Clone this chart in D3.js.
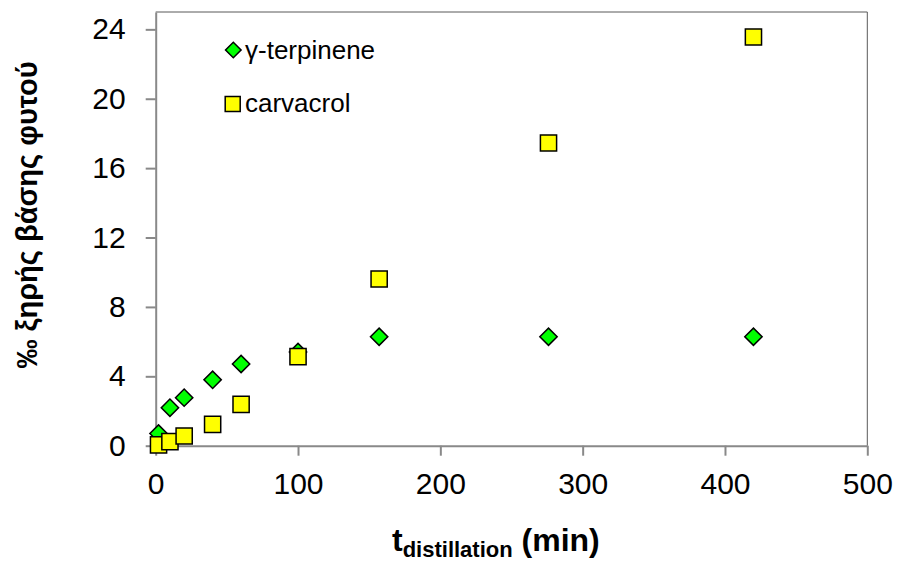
<!DOCTYPE html>
<html><head><meta charset="utf-8">
<script src="https://cdn.jsdelivr.net/npm/d3@7"></script>
<style>body{margin:0;background:#fff}svg{display:block;font-family:"Liberation Sans",Arial,sans-serif}</style>
</head><body><svg id="c" width="897" height="563"></svg>
<script>
const seriesNames = ["γ-terpinene", "carvacrol"];
const terpineneT = [2, 10, 20, 40, 60, 100, 157, 276, 420];
const terpineneV = [0.7, 2.19, 2.77, 3.8, 4.71, 5.4, 6.28, 6.28, 6.28];
const carvacrolT = [2, 10, 20, 40, 60, 100, 157, 276, 420];
const carvacrolV = [0.05, 0.23, 0.56, 1.23, 2.38, 5.13, 9.61, 17.45, 23.56];
const xTicks = [0, 100, 200, 300, 400, 500];
const yTicks = [0, 4, 8, 12, 16, 20, 24];
const xLabelMain = "t", xLabelSub = "distillation", xLabelUnit = " (min)";
const yLabel = "‰ ξηρής βάσης φυτού";

const svg = d3.select("#c");
const x = d3.scaleLinear().domain([0, 500]).range([155.7, 867.3]);
const y = d3.scaleLinear().domain([0, 25]).range([445.7, 12]);

// frame top/right
svg.append("path").attr("d", `M${x(0)},${y(25)}H${x(500)}V${y(0)}`)
  .attr("fill","none").attr("stroke","#595959").attr("stroke-width",1);

const xa = svg.append("g").attr("transform",`translate(0,${y(0)})`)
  .call(d3.axisBottom(x).tickValues(xTicks).tickSize(10).tickPadding(17).tickSizeOuter(0));
const ya = svg.append("g").attr("transform",`translate(${x(0)},0)`)
  .call(d3.axisLeft(y).tickValues(yTicks).tickSize(10).tickPadding(20).tickSizeOuter(0));
[xa, ya].forEach(a => {
  a.attr("font-size", 30).attr("font-family", "'Liberation Sans',Arial,sans-serif");
  a.select(".domain").attr("stroke","#898989").attr("stroke-width",2);
  a.selectAll(".tick line").attr("stroke","#898989").attr("stroke-width",2);
  a.selectAll(".tick text").attr("fill","#000");
});

const diamond = d3.symbol().type(d3.symbolSquare).size(150)();
const square = d3.symbol().type(d3.symbolSquare).size(262)();

const tData = terpineneT.map((t,i)=>({t, v: terpineneV[i]}));
const cData = carvacrolT.map((t,i)=>({t, v: carvacrolV[i]}));

svg.append("g").selectAll("path").data(tData).join("path")
  .attr("d", diamond)
  .attr("transform", d=>`translate(${x(d.t)},${y(d.v)}) rotate(45)`)
  .attr("fill","#00ff00").attr("stroke","#000").attr("stroke-width",1.5);
svg.append("g").selectAll("path").data(cData).join("path")
  .attr("d", square)
  .attr("transform", d=>`translate(${x(d.t)},${y(d.v)})`)
  .attr("fill","#ffff00").attr("stroke","#000").attr("stroke-width",1.5);

// legend
const lg = svg.append("g");
lg.append("path").attr("d", d3.symbol().type(d3.symbolSquare).size(121)())
  .attr("transform","translate(233.3,50) rotate(45)")
  .attr("fill","#00ff00").attr("stroke","#000").attr("stroke-width",1.5);
lg.append("text").attr("x",245).attr("y",58.5).attr("font-size",26).text(seriesNames[0]);
lg.append("path").attr("d", d3.symbol().type(d3.symbolSquare).size(225)())
  .attr("transform","translate(232.7,104)")
  .attr("fill","#ffff00").attr("stroke","#000").attr("stroke-width",1.5);
lg.append("text").attr("x",245).attr("y",112).attr("font-size",26).text(seriesNames[1]);

// x label
const xl = svg.append("text").attr("x",392).attr("y",551).attr("font-weight","bold").attr("font-size",32);
xl.append("tspan").text(xLabelMain);
xl.append("tspan").attr("font-size",22).attr("dy",6).text(xLabelSub);
xl.append("tspan").attr("dy",-6).text(xLabelUnit);

// y label
svg.append("text").attr("transform","translate(37,215) rotate(-90)")
  .attr("text-anchor","middle").attr("font-weight","bold").attr("font-size",29).text(yLabel);
</script></body></html>
